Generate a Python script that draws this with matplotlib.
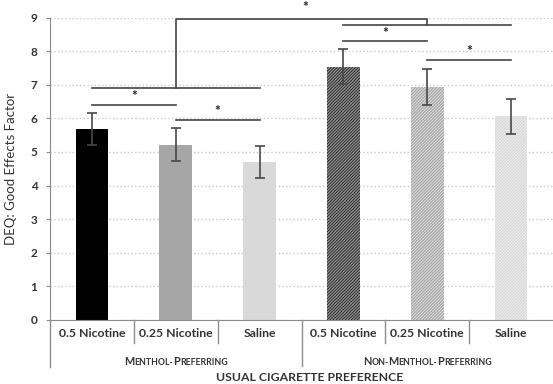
import numpy as np
import matplotlib
matplotlib.use('Agg')
import matplotlib.pyplot as plt
import matplotlib.transforms as mtransforms

plt.rcParams['font.family'] = ['Lato', 'DejaVu Sans']
plt.rcParams['hatch.linewidth'] = 1.0

# data
categories = ['0.5 Nicotine', '0.25 Nicotine', 'Saline',
              '0.5 Nicotine', '0.25 Nicotine', 'Saline']
groups = ['Menthol-Preferring', 'Non-Menthol-Preferring']
means = [5.68, 5.22, 4.69, 7.54, 6.93, 6.06]
errs = [0.48, 0.49, 0.48, 0.52, 0.53, 0.53]

# significance: (bar a, bar b, height)
pair_sig = [(0, 1, 6.40), (1, 2, 5.95), (3, 4, 8.29), (4, 5, 7.73)]
group_lines = [(0, 2, 6.90), (3, 5, 8.77)]
bracket = (1, 4, 8.95)

face = ['#000000', '#a6a6a6', '#d9d9d9', '#141414', '#e4e4e4', '#f2f2f2']
hatch_col = ['#000000', '#a6a6a6', '#d9d9d9', '#909090', '#ababab', '#d8d8d8']
hatches = [None, None, None, '///////////', '///////////', '///////////']

fig = plt.figure(figsize=(5.53, 3.84), dpi=100)
ax = fig.add_axes([50 / 553, 1 - 320 / 384, 1 - 50 / 553, (320 - 17.5) / 384])

x = np.arange(len(means))
for i in range(len(means)):
    ax.bar(x[i], means[i], width=0.39, color=face[i], edgecolor=hatch_col[i],
           hatch=hatches[i], linewidth=0, zorder=2)
ax.errorbar(x, means, yerr=errs, fmt='none', ecolor='#484848', elinewidth=1.2,
            capsize=3.5, capthick=1.2, zorder=3)

ax.set_xlim(-0.5, 5.5)
ax.set_ylim(0, 9)
ax.set_yticks(range(0, 10))
ax.yaxis.grid(True, linestyle=':', color='#c8c8c8', linewidth=1.0, zorder=0)
ax.set_axisbelow(True)
for s in ['top', 'right']:
    ax.spines[s].set_visible(False)
for s in ['left', 'bottom']:
    ax.spines[s].set_color('#8c8c8c')
ax.tick_params(axis='y', length=3, color='#8c8c8c', labelsize=8.5, pad=6)
for lab in ax.get_yticklabels():
    lab.set_fontweight('bold')
    lab.set_color('#333333')
ax.set_xticks([])
ax.set_ylabel('DEQ: Good Effects Factor', fontsize=9.5, color='#333333',
              labelpad=10)

lc = '#444444'
star_kw = dict(ha='center', va='center', fontsize=10, fontweight='bold',
               color='#222222', clip_on=False)
for a, b, h in pair_sig:
    ax.plot([a, b], [h, h], color=lc, lw=1.2, clip_on=False, zorder=4)
    ax.text((a + b) / 2, h + 0.26, '*', **star_kw)
for a, b, h in group_lines:
    ax.plot([a, b], [h, h], color=lc, lw=1.2, clip_on=False, zorder=4)
a, b, h = bracket
ax.plot([a, a, b, b], [group_lines[0][2], h, h, group_lines[1][2]],
        color=lc, lw=1.2, clip_on=False, zorder=4)
ax.text((a + b) / 2 + 0.05, h + 0.36, '*', **star_kw)

# category axis
trans = mtransforms.blended_transform_factory(ax.transData, ax.transAxes)
sep = '#8c8c8c'
for k in range(1, 6):
    bottom = -0.152 if k == 3 else -0.076
    ax.plot([k - 0.5, k - 0.5], [0, bottom], color=sep, lw=1.0,
            transform=trans, clip_on=False)
ax.plot([-0.5, -0.5], [0, -0.155], color=sep, lw=1.0,
        transform=trans, clip_on=False)
for i, c in enumerate(categories):
    ax.text(x[i], -0.046, c, transform=trans, ha='center', va='center',
            fontsize=8.8, fontweight='bold', color='#333333')


def small_caps(xc, yc, text, big, small):
    # draw text in small caps by pieces
    runs = []
    for ch in text:
        size = big if ch.isupper() else small
        if runs and runs[-1][1] == size:
            runs[-1][0] += ch.upper()
        else:
            runs.append([ch.upper(), size])
    renderer = fig.canvas.get_renderer()
    texts, widths = [], []
    for s, size in runs:
        t = ax.text(xc, yc, s, transform=trans, ha='left', va='baseline',
                    fontsize=size, fontweight='bold', color='#333333')
        texts.append(t)
        widths.append(t.get_window_extent(renderer).width)
    off = -sum(widths) / 2
    for t, w in zip(texts, widths):
        t.set_transform(mtransforms.offset_copy(trans, fig=fig, x=off,
                                                units='dots'))
        off += w


small_caps(1, -0.148, groups[0], 7.8, 6.3)
small_caps(4, -0.148, groups[1], 7.8, 6.3)
ax.text(2.6, -0.19, 'USUAL CIGARETTE PREFERENCE', transform=trans,
        ha='center', va='center', fontsize=8.8, fontweight='bold',
        color='#333333')

fig.savefig('out.png', dpi=100)
